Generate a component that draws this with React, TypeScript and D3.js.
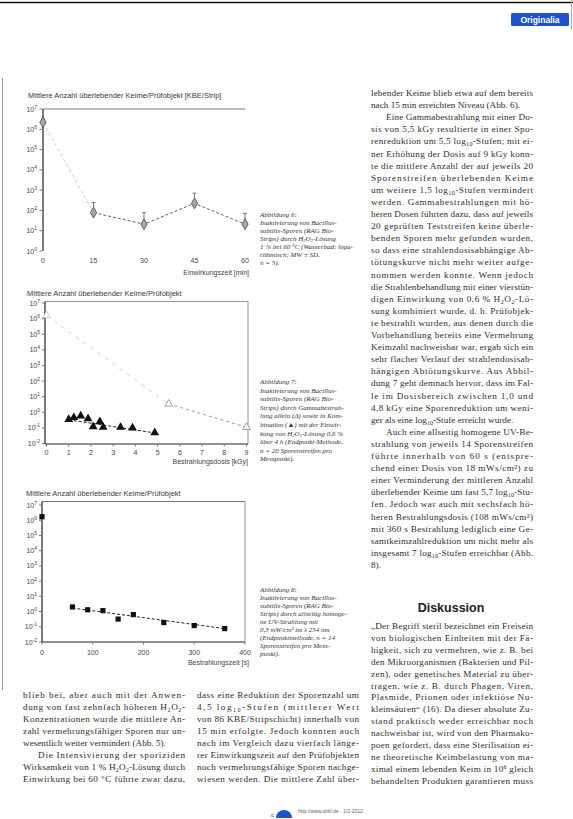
import React from "react";
import * as d3 from "d3";

// ---------- Chart data ----------
const c1Time = [0, 15, 30, 45, 60];
const c1Mean = [2.2e6, 78, 21, 224, 21];
const c1Upper = [3.2e6, 245, 78, 708, 72];
const c1XTicks = [0, 15, 30, 45, 60];
const c1YTicks = [1e7, 1e6, 1e5, 1e4, 1e3, 1e2, 1e1, 1e0];

const c2DoseCombined = [1.0, 1.23, 1.54, 1.87, 2.1, 2.4, 2.55, 3.33, 3.87, 4.87];
const c2Combined = [0.35, 0.46, 0.58, 0.39, 0.12, 0.25, 0.11, 0.11, 0.1, 0.05];
const c2DoseGamma = [0, 5.5, 9];
const c2Gamma = [1.6e6, 3.4, 0.11];
const c2FitDose = [1.0, 4.9];
const c2Fit = [0.33, 0.047];
const c2XTicks = [0, 1, 2, 3, 4, 5, 6, 7, 8, 9];
const c2YTicks = [1e7, 1e6, 1e5, 1e4, 1e3, 1e2, 1e1, 1e0, 1e-1, 1e-2];

const c3Time = [0, 60, 90, 120, 150, 180, 240, 300, 360];
const c3Count = [1.7e6, 2.0, 1.3, 1.15, 0.32, 0.63, 0.19, 0.12, 0.076];
const c3FitTime = [60, 360];
const c3Fit = [1.7, 0.076];
const c3XTicks = [0, 100, 200, 300, 400];
const c3YTicks = [1e7, 1e6, 1e5, 1e4, 1e3, 1e2, 1e1, 1e0, 1e-1, 1e-2];

const chartTitles = [
  "Mittlere Anzahl überlebender Keime/Prüfobjekt [KBE/Strip]",
  "Mittlere Anzahl überlebender Keime/Prüfobjekt",
  "Mittlere Anzahl überlebender Keime/Prüfobjekt",
];
const xTitles = ["Einwirkungszeit [min]", "Bestrahlungsdosis [kGy]", "Bestrahlungszeit [s]"];

const caption1 = [
  "Abbildung 6:",
  "Inaktivierung von Bacillus-",
  "subtilis-Sporen (RAG Bio-",
  "Strips) durch H_{2}O_{2}-Lösung",
  "1 % bei 60 °C (Wasserbad; loga-",
  "rithmisch; MW ± SD,",
  "n = 5).",
];
const caption2 = [
  "Abbildung 7:",
  "Inaktivierung von Bacillus-",
  "subtilis-Sporen (RAG Bio-",
  "Strips) durch Gammabestrah-",
  "lung allein (Δ) sowie in Kom-",
  "bination (▲) mit der Einwir-",
  "kung von H_{2}O_{2}-Lösung 0,6 %",
  "über 4 h (Endpunkt-Methode,",
  "n = 20 Sporenstreifen pro",
  "Messpunkt).",
];
const caption3 = [
  "Abbildung 8:",
  "Inaktivierung von Bacillus-",
  "subtilis-Sporen (RAG Bio-",
  "Strips) durch allseitig homoge-",
  "ne UV-Strahlung mit",
  "0,3 mW/cm² im λ 254 nm",
  "(Endpunktmethode, n = 14",
  "Sporenstreifen pro Mess-",
  "punkt).",
];

// ---------- Body text ( ">" = indent, "|" = paragraph end ) ----------
const rightColumn = [
  "lebender Keime blieb etwa auf dem bereits",
  "nach 15 min erreichten Niveau (Abb. 6).|",
  ">Eine Gammabestrahlung mit einer Do-",
  "sis von 5,5 kGy resultierte in einer Spo-",
  "renreduktion um 5,5 log_{10}-Stufen; mit ei-",
  "ner Erhöhung der Dosis auf 9 kGy konn-",
  "te die mittlere Anzahl der auf jeweils 20",
  "Sporenstreifen überlebenden Keime",
  "um weitere 1,5 log_{10}-Stufen vermindert",
  "werden. Gammabestrahlungen mit hö-",
  "heren Dosen führten dazu, dass auf jeweils",
  "20 geprüften Teststreifen keine überle-",
  "benden Sporen mehr gefunden wurden,",
  "so dass eine strahlendosisabhängige Ab-",
  "tötungskurve nicht mehr weiter aufge-",
  "nommen werden konnte. Wenn jedoch",
  "die Strahlenbehandlung mit einer vierstün-",
  "digen Einwirkung von 0,6 % H_{2}O_{2}-Lö-",
  "sung kombiniert wurde, d. h. Prüfobjek-",
  "te bestrahlt wurden, aus denen durch die",
  "Vorbehandlung bereits eine Vermehrung",
  "Keimzahl nachweisbar war, ergab sich ein",
  "sehr flacher Verlauf der strahlendosisab-",
  "hängigen Abtötungskurve. Aus Abbil-",
  "dung 7 geht demnach hervor, dass im Fal-",
  "le im Dosisbereich zwischen 1,0 und",
  "4,8 kGy eine Sporenreduktion um weni-",
  "ger als eine log_{10}-Stufe erreicht wurde.|",
  ">Auch eine allseitig homogene UV-Be-",
  "strahlung von jeweils 14 Sporenstreifen",
  "führte innerhalb von 60 s (entspre-",
  "chend einer Dosis von 18 mWs/cm²) zu",
  "einer Verminderung der mittleren Anzahl",
  "überlebender Keime um fast 5,7 log_{10}-Stu-",
  "fen. Jedoch war auch mit sechsfach hö-",
  "heren Bestrahlungsdosis (108 mWs/cm²)",
  "mit 360 s Bestrahlung lediglich eine Ge-",
  "samtkeimzahlreduktion um nicht mehr als",
  "insgesamt 7 log_{10}-Stufen erreichbar (Abb.",
  "8).|",
];

const discussion = [
  "„Der Begriff steril bezeichnet ein Freisein",
  "von biologischen Einheiten mit der Fä-",
  "higkeit, sich zu vermehren, wie z. B. bei",
  "den Mikroorganismen (Bakterien und Pil-",
  "zen), oder genetisches Material zu über-",
  "tragen, wie z. B. durch Phagen, Viren,",
  "Plasmide, Prionen oder infektiöse Nu-",
  "kleinsäuren“ (16). Da dieser absolute Zu-",
  "stand praktisch weder erreichbar noch",
  "nachweisbar ist, wird von den Pharmako-",
  "poen gefordert, dass eine Sterilisation ei-",
  "ne theoretische Keimbelastung von ma-",
  "ximal einem lebenden Keim in 10^{6} gleich",
  "behandelten Produkten garantieren muss",
];

const leftColumn = [
  "blieb bei, aber auch mit der Anwen-",
  "dung von fast zehnfach höheren H_{2}O_{2}-",
  "Konzentrationen wurde die mittlere An-",
  "zahl vermehrungsfähiger Sporen nur un-",
  "wesentlich weiter vermindert (Abb. 5).|",
  ">Die Intensivierung der sporiziden",
  "Wirksamkeit von 1 % H_{2}O_{2}-Lösung durch",
  "Einwirkung bei 60 °C führte zwar dazu,",
];

const middleColumn = [
  "dass eine Reduktion der Sporenzahl um",
  "4,5 log_{10}-Stufen (mittlerer Wert",
  "von 86 KBE/Stripschicht) innerhalb von",
  "15 min erfolgte. Jedoch konnten auch",
  "nach im Vergleich dazu vierfach länge-",
  "rer Einwirkungszeit auf den Prüfobjekten",
  "noch vermehrungsfähige Sporen nachge-",
  "wiesen werden. Die mittlere Zahl über-",
];

const SANS = "'Liberation Sans', Arial, sans-serif";
const SERIF = "'Liberation Serif', 'Times New Roman', serif";
const TXT = "#2e2e2e";

function Rich({ s, fs }: { s: string; fs: number }) {
  const parts: any[] = [];
  const re = /_\{([^}]*)\}|\^\{([^}]*)\}/g;
  let last = 0;
  let m: RegExpExecArray | null;
  let k = 0;
  const shift = Math.round(fs * 0.2 * 10) / 10;
  while ((m = re.exec(s))) {
    if (m.index > last) parts.push(<tspan key={k++}>{s.slice(last, m.index)}</tspan>);
    if (m[1] !== undefined)
      parts.push(<tspan key={k++} fontSize={fs * 0.66} baselineShift={-shift}>{m[1]}</tspan>);
    else parts.push(<tspan key={k++} fontSize={fs * 0.66} baselineShift={shift * 1.8}>{m[2]}</tspan>);
    last = re.lastIndex;
  }
  if (last < s.length) parts.push(<tspan key={k++}>{s.slice(last)}</tspan>);
  return <>{parts}</>;
}

function Column({ lines, x, y0, dy, width, fs }: { lines: string[]; x: number; y0: number; dy: number; width: number; fs: number }) {
  return (
    <g fontFamily={SERIF} fontSize={fs} fill={TXT}>
      {lines.map((raw, i) => {
        let s = raw;
        let indent = 0;
        let end = false;
        if (s.startsWith(">")) { indent = 15; s = s.slice(1); }
        if (s.endsWith("|")) { end = true; s = s.slice(0, -1); }
        const props: any = {};
        if (!end) { props.textLength = width - indent; props.lengthAdjust = "spacing"; }
        return (
          <text key={i} x={x + indent} y={y0 + i * dy} {...props}>
            <Rich s={s} fs={fs} />
          </text>
        );
      })}
    </g>
  );
}

function Caption({ lines, x, y0, dy }: { lines: string[]; x: number; y0: number; dy: number }) {
  return (
    <g fontFamily={SERIF} fontStyle="italic" fontSize={7} fill="#333">
      {lines.map((s, i) => (
        <text key={i} x={x} y={y0 + i * dy}>
          <Rich s={s} fs={7} />
        </text>
      ))}
    </g>
  );
}

function PowLabel({ v, x, y }: { v: number; x: number; y: number }) {
  const e = Math.round(Math.log10(v));
  return (
    <text x={x} y={y + 2.5} textAnchor="end" fontFamily={SANS} fontSize={7} fill="#444">
      10<tspan fontSize={5} dy={-3}>{e}</tspan>
    </text>
  );
}

function Chart1() {
  const x = d3.scaleLinear().domain([0, 60]).range([43, 245]);
  const y = d3.scaleLog().domain([1, 1e7]).range([251, 109]);
  const line = d3.line<number>().x((d) => x(c1Time[d])).y((d) => y(c1Mean[d]));
  const idx = c1Time.map((_, i) => i);
  return (
    <g>
      <text x={28} y={97.5} fontFamily={SANS} fontSize={7.5} fill="#3a3a3a">{chartTitles[0]}</text>
      <line x1={43} x2={245} y1={109} y2={109} stroke="#777" strokeWidth={1} />
      <line x1={43} x2={43} y1={109} y2={251} stroke="#222" strokeWidth={1.2} />
      {c1YTicks.map((v) => (
        <g key={v}>
          <PowLabel v={v} x={37} y={y(v)} />
          <line x1={39.5} x2={42} y1={y(v)} y2={y(v)} stroke="#777" />
        </g>
      ))}
      {c1XTicks.map((v) => (
        <text key={v} x={x(v)} y={262.5} textAnchor="middle" fontFamily={SANS} fontSize={7} fill="#444">{v}</text>
      ))}
      <text x={249} y={274.5} textAnchor="end" fontFamily={SANS} fontSize={7} fill="#444">{xTitles[0]}</text>
      <path d={line(idx.slice(0, 2)) || ""} fill="none" stroke="#c8c8c8" strokeDasharray="3 3" />
      <path d={line(idx.slice(1)) || ""} fill="none" stroke="#666" strokeDasharray="3 2" />
      {idx.map((i) => (
        <g key={i}>
          <line x1={x(c1Time[i])} x2={x(c1Time[i])} y1={y(c1Mean[i])} y2={y(c1Upper[i])} stroke="#777" />
          <line x1={x(c1Time[i]) - 2} x2={x(c1Time[i]) + 2} y1={y(c1Upper[i])} y2={y(c1Upper[i])} stroke="#777" />
          <path
            d={d3.symbol(d3.symbolDiamond, 34)() || ""}
            transform={`translate(${x(c1Time[i])},${y(c1Mean[i])})`}
            fill="#a8a8a8"
            stroke="#444"
            strokeWidth={0.8}
          />
        </g>
      ))}
    </g>
  );
}

function Chart2() {
  const x = d3.scaleLinear().domain([0, 9]).range([46.5, 246.5]);
  const y = d3.scaleLog().domain([1e-2, 1e7]).range([443.5, 303]);
  const gLine = d3.line<number>().x((d) => x(c2DoseGamma[d])).y((d) => y(c2Gamma[d]));
  const fLine = d3.line<number>().x((d) => x(c2FitDose[d])).y((d) => y(c2Fit[d]));
  return (
    <g>
      <text x={27} y={295.5} fontFamily={SANS} fontSize={7.5} fill="#3a3a3a">{chartTitles[1]}</text>
      <line x1={45} x2={248} y1={301.5} y2={301.5} stroke="#999" />
      <line x1={248} x2={248} y1={301.5} y2={444} stroke="#999" />
      <line x1={45} x2={45} y1={301.5} y2={444} stroke="#222" strokeWidth={1.2} />
      <line x1={45} x2={248} y1={444} y2={444} stroke="#222" strokeWidth={1.2} />
      {c2YTicks.map((v) => (
        <g key={v}>
          <PowLabel v={v} x={40} y={y(v)} />
          <line x1={42} x2={45} y1={y(v)} y2={y(v)} stroke="#777" />
        </g>
      ))}
      {c2XTicks.map((v) => (
        <g key={v}>
          <line x1={x(v)} x2={x(v)} y1={444} y2={446.5} stroke="#777" />
          <text x={x(v)} y={455} textAnchor="middle" fontFamily={SANS} fontSize={7} fill="#444">{v}</text>
        </g>
      ))}
      <text x={248} y={463.5} textAnchor="end" fontFamily={SANS} fontSize={7} fill="#444">{xTitles[1]}</text>
      <path d={gLine([0, 1]) || ""} fill="none" stroke="#cfcfcf" strokeDasharray="4 5" />
      <path d={gLine([1, 2]) || ""} fill="none" stroke="#999" strokeDasharray="3 3" />
      {c2DoseGamma.map((d, i) => (
        <path
          key={i}
          d={d3.symbol(d3.symbolTriangle, 26)() || ""}
          transform={`translate(${x(d)},${y(c2Gamma[i])})`}
          fill="#fff"
          stroke={i === 0 ? "#c0c0c0" : "#888"}
          strokeWidth={0.8}
        />
      ))}
      <path d={fLine([0, 1]) || ""} fill="none" stroke="#222" strokeDasharray="3 2" />
      {c2DoseCombined.map((d, i) => (
        <path
          key={i}
          d={d3.symbol(d3.symbolTriangle, 34)() || ""}
          transform={`translate(${x(d)},${y(c2Combined[i])})`}
          fill="#111"
        />
      ))}
    </g>
  );
}

function Chart3() {
  const x = d3.scaleLinear().domain([0, 400]).range([42, 245]);
  const y = d3.scaleLog().domain([1e-2, 1e7]).range([642, 505]);
  const fLine = d3.line<number>().x((d) => x(c3FitTime[d])).y((d) => y(c3Fit[d]));
  return (
    <g>
      <text x={26} y={495.5} fontFamily={SANS} fontSize={7.5} fill="#3a3a3a">{chartTitles[2]}</text>
      <line x1={42} x2={245} y1={501.5} y2={501.5} stroke="#777" />
      <line x1={245} x2={245} y1={501.5} y2={642} stroke="#999" />
      <line x1={42} x2={42} y1={501.5} y2={642} stroke="#222" strokeWidth={1.2} />
      <line x1={42} x2={245} y1={642} y2={642} stroke="#222" strokeWidth={1.2} />
      {c3YTicks.map((v) => (
        <g key={v}>
          <PowLabel v={v} x={37} y={y(v)} />
          <line x1={39} x2={42} y1={y(v)} y2={y(v)} stroke="#777" />
        </g>
      ))}
      {c3XTicks.map((v) => (
        <g key={v}>
          <line x1={x(v)} x2={x(v)} y1={642} y2={644.5} stroke="#777" />
          <text x={x(v)} y={655} textAnchor="middle" fontFamily={SANS} fontSize={7} fill="#444">{v}</text>
        </g>
      ))}
      <text x={249} y={664.5} textAnchor="end" fontFamily={SANS} fontSize={7} fill="#444">{xTitles[2]}</text>
      <path d={fLine([0, 1]) || ""} fill="none" stroke="#222" strokeDasharray="3 2" />
      {c3Time.map((t, i) => (
        <rect key={i} x={x(t) - 2.6} y={y(c3Count[i]) - 2.6} width={5.2} height={5.2} fill="#111" />
      ))}
    </g>
  );
}

export default function App() {
  return (
    <svg
      width={573}
      height={819}
      viewBox="0 0 573 819"
      style={{ position: "absolute", left: 0, top: 0, background: "#fff" }}
    >
      <rect x={0} y={0} width={573} height={819} fill="#fff" />
      {/* header */}
      <line x1={0} x2={573} y1={2.5} y2={2.5} stroke="#111" strokeWidth={1.6} />
      <line x1={571.5} x2={571.5} y1={0} y2={30} stroke="#aaa" />
      <rect x={511} y={13} width={58} height={13} rx={1.5} fill="#1f52cc" />
      <text x={540} y={22.8} textAnchor="middle" fontFamily={SANS} fontWeight="bold" fontSize={8.5} fill="#fff">Originalia</text>
      <line x1={2.5} x2={2.5} y1={78} y2={690} stroke="#9a9a9a" strokeWidth={1} />

      <Chart1 />
      <Chart2 />
      <Chart3 />

      <Caption lines={caption1} x={260} y0={217} dy={8} />
      <Caption lines={caption2} x={260} y0={384} dy={8.6} />
      <Caption lines={caption3} x={260} y0={592} dy={8} />

      <Column lines={rightColumn} x={371} y0={96} dy={12.1} width={162} fs={9.2} />
      <text x={451} y={611.5} textAnchor="middle" fontFamily={SANS} fontWeight="bold" fontSize={12.5} fill="#222">Diskussion</text>
      <Column lines={discussion} x={371} y0={629} dy={11.9} width={162} fs={9.2} />
      <Column lines={leftColumn} x={23} y0={698} dy={12} width={162} fs={9.2} />
      <Column lines={middleColumn} x={197} y0={698} dy={12} width={162} fs={9.2} />

      {/* footer */}
      <path d="M276,818 A8,8 0 0 1 292,818 Z" fill="#1f52cc" />
      <text x={271} y={817} fontFamily={SANS} fontSize={6} fill="#444">c</text>
      <text x={298} y={813} fontFamily={SANS} fontSize={5} fill="#666">http://www.dzkf.de · 1/2-2012</text>
    </svg>
  );
}
